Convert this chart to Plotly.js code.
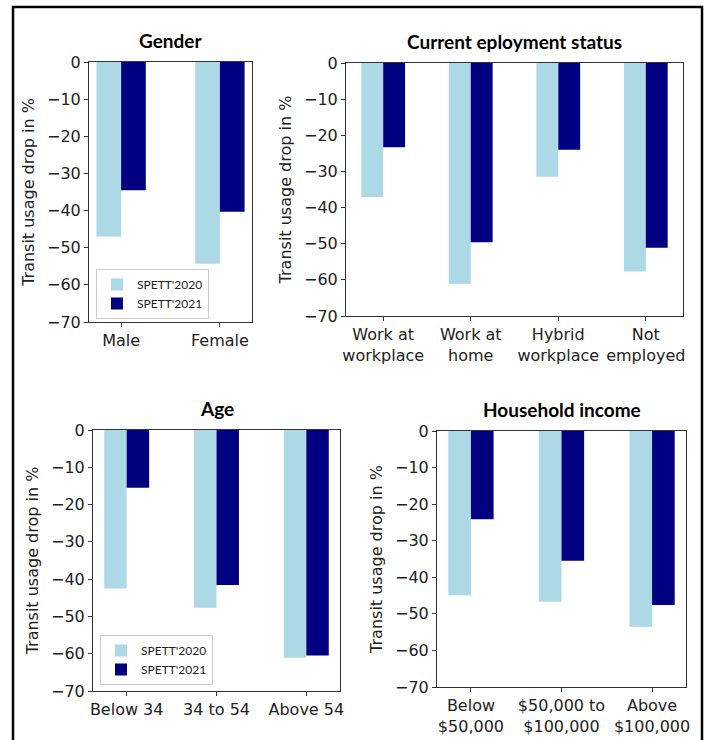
<!DOCTYPE html>
<html>
<head>
<meta charset="utf-8">
<script src="https://cdn.plot.ly/plotly-3.0.1.min.js"></script>
<style>body{margin:0;padding:0;background:#fff;} #chart{width:709px;height:740px;}</style>
</head>
<body>
<div id="chart"></div>
<script>
// ---- data ----
const seriesNames = ["SPETT'2020", "SPETT'2021"];

const genderCats = ["Male", "Female"];
const genderTicks = ["Male", "Female"];
const gender2020 = [-47.0, -54.3];
const gender2021 = [-34.5, -40.3];

const employCats = ["Work at workplace", "Work at home", "Hybrid workplace", "Not employed"];
const employTicks = ["Work at<br>workplace", "Work at<br>home", "Hybrid<br>workplace", "Not<br>employed"];
const employ2020 = [-37.1, -61.1, -31.5, -57.7];
const employ2021 = [-23.3, -49.6, -24.0, -51.1];

const ageCats = ["Below 34", "34 to 54", "Above 54"];
const ageTicks = ["Below 34", "34 to 54", "Above 54"];
const age2020 = [-42.5, -47.7, -61.1];
const age2021 = [-15.5, -41.6, -60.5];

const incomeCats = ["Below $50,000", "$50,000 to $100,000", "Above $100,000"];
const incomeTicks = ["Below<br>$50,000", "$50,000 to<br>$100,000", "Above<br>$100,000"];
const income2020 = [-44.9, -46.7, -53.5];
const income2021 = [-24.1, -35.5, -47.6];

const panelTitles = ["Gender", "Current eployment status", "Age", "Household income"];
const yTitle = "Transit usage drop in %";
const yTickVals = [0, -10, -20, -30, -40, -50, -60, -70];

// ---- styling / layout ----
const W = 709, H = 740;
const C2020 = "#add8e6", C2021 = "#000080";
const tickFont = {family: "DejaVu Sans", size: 16, color: "#222"};
const titleFont = {family: "Lato", size: 19, color: "#000", weight: "bold"};

// pixel boxes [left, right, top, bottom]
const boxes = [
  [89, 252, 62, 322],
  [346, 683, 63, 316],
  [93, 340, 430, 691],
  [437, 686, 431, 687]
];
const xd = b => [b[0] / W, b[1] / W];
const yd = b => [1 - b[3] / H, 1 - b[2] / H];

const panels = [
  {cats: genderCats, ticks: genderTicks, a: gender2020, b: gender2021, legend: "legend"},
  {cats: employCats, ticks: employTicks, a: employ2020, b: employ2021, legend: null},
  {cats: ageCats, ticks: ageTicks, a: age2020, b: age2021, legend: "legend2"},
  {cats: incomeCats, ticks: incomeTicks, a: income2020, b: income2021, legend: null}
];

const traces = [];
const layout = {
  width: W, height: H,
  margin: {l: 0, r: 0, t: 0, b: 0},
  paper_bgcolor: "#fff", plot_bgcolor: "#fff",
  barmode: "group", bargap: 0.5, bargroupgap: 0,
  showlegend: true,
  annotations: [], shapes: []
};

panels.forEach((p, i) => {
  const n = i + 1;
  const xa = n === 1 ? "x" : "x" + n;
  const ya = n === 1 ? "y" : "y" + n;
  const common = {type: "bar", xaxis: xa, yaxis: ya, hoverinfo: "x+y"};
  const t1 = Object.assign({}, common, {x: p.cats, y: p.a, name: seriesNames[0], marker: {color: C2020}});
  const t2 = Object.assign({}, common, {x: p.cats, y: p.b, name: seriesNames[1], marker: {color: C2021}});
  if (p.legend) { t1.legend = p.legend; t2.legend = p.legend; }
  else { t1.showlegend = false; t2.showlegend = false; }
  traces.push(t1, t2);

  const nc = p.cats.length;
  const span = nc - 0.5;
  const m = 0.05 * span;
  const b = boxes[i];
  layout["xaxis" + (n === 1 ? "" : n)] = {
    domain: xd(b), anchor: ya, type: "category",
    range: [-0.25 - m, nc - 1 + 0.25 + m],
    tickvals: p.cats, ticktext: p.ticks,
    ticks: "outside", ticklen: 4, tickcolor: "#333",
    showline: true, mirror: true, linecolor: "#333", linewidth: 1,
    showgrid: false, zeroline: false, tickfont: tickFont, fixedrange: true
  };
  layout["yaxis" + (n === 1 ? "" : n)] = {
    domain: yd(b), anchor: xa,
    range: [-70, 0], tickvals: yTickVals,
    ticks: "outside", ticklen: 4, tickcolor: "#333",
    showline: true, mirror: true, linecolor: "#333", linewidth: 1,
    showgrid: false, zeroline: false, tickfont: tickFont,
    title: {text: yTitle, font: {family: "DejaVu Sans", size: 16, color: "#222"}, standoff: 8},
    fixedrange: true
  };
  layout.annotations.push({
    text: panelTitles[i], showarrow: false, xref: "paper", yref: "paper",
    x: (b[0] + b[1]) / 2 / W, y: 1 - (b[2] - 8) / H,
    xanchor: "center", yanchor: "bottom", font: titleFont
  });
});

const legendStyle = {
  xanchor: "left", yanchor: "bottom",
  bgcolor: "rgba(255,255,255,0.85)", bordercolor: "#ccc", borderwidth: 1,
  font: {family: "Lato", size: 12, color: "#222"},
  itemwidth: 30, tracegroupgap: 0
};
layout.legend = Object.assign({}, legendStyle, {x: 96 / W, y: 1 - 319 / H});
layout.legend2 = Object.assign({}, legendStyle, {x: 100 / W, y: 1 - 685 / H});

layout.shapes.push({
  type: "rect", xref: "paper", yref: "paper",
  x0: 13 / W, x1: 702 / W, y0: -0.02, y1: 1 - 7 / H,
  line: {color: "#000", width: 2.5}, fillcolor: "rgba(0,0,0,0)"
});

Plotly.newPlot("chart", traces, layout, {displayModeBar: false, staticPlot: true});
</script>
</body>
</html>
